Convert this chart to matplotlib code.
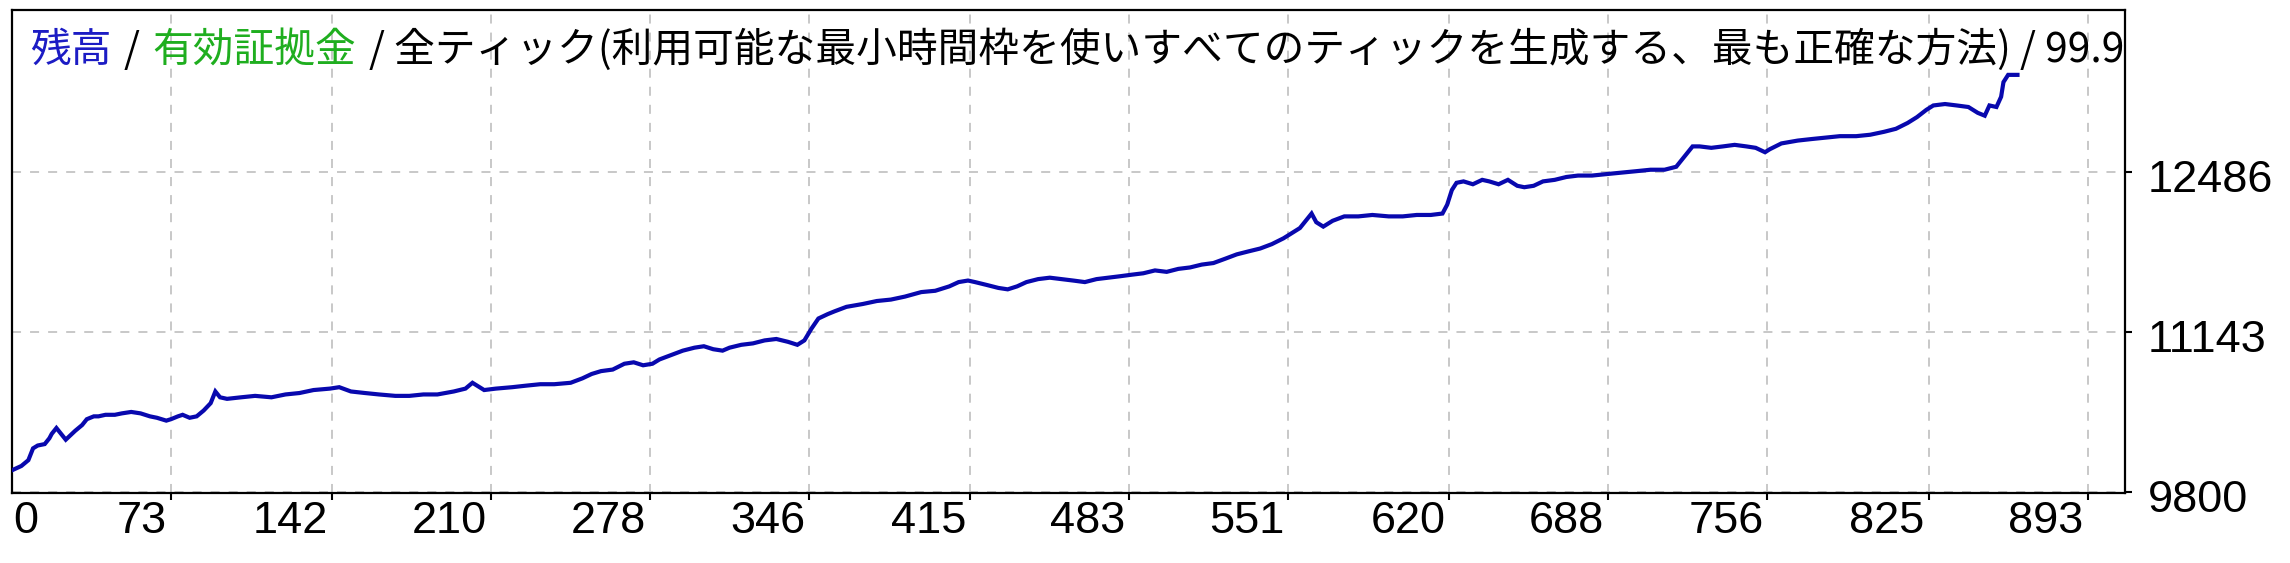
import matplotlib
matplotlib.use("Agg")
import matplotlib.pyplot as plt
from matplotlib.transforms import ScaledTranslation

# ---- data ----
trades = [5, 9, 12, 14, 16, 19, 21, 22, 24, 26, 28, 30, 32, 35, 37, 40, 42, 45, 49, 52,
          56, 60, 64, 67, 71, 73, 76, 78, 81, 84, 87, 90, 92, 94, 97, 103, 109, 116, 122, 128,
          134, 141, 145, 150, 156, 162, 169, 175, 181, 187, 194, 199, 202, 204, 207, 212, 219, 225, 231, 237,
          244, 249, 253, 257, 262, 267, 271, 275, 279, 282, 287, 292, 297, 301, 305, 309, 312, 317, 322, 327,
          332, 337, 341, 344, 347, 350, 354, 357, 362, 369, 375, 381, 387, 394, 400, 406, 410, 414, 417, 422,
          427, 431, 435, 439, 444, 449, 454, 459, 464, 469, 474, 479, 484, 489, 494, 499, 504, 509, 514, 519,
          524, 529, 534, 539, 544, 549, 552, 556, 559, 561, 563, 566, 570, 575, 581, 587, 594, 600, 606, 612,
          617, 619, 621, 623, 626, 630, 634, 637, 641, 645, 649, 652, 656, 660, 665, 670, 675, 681, 687, 694,
          700, 706, 712, 717, 721, 724, 727, 732, 737, 742, 747, 751, 755, 757, 762, 769, 775, 781, 787, 794,
          800, 806, 811, 816, 820, 824, 827, 832, 837, 842, 846, 849, 851, 854, 856, 857, 859, 863]
balance = [9983, 10019, 10068, 10167, 10191, 10203, 10252, 10289, 10338, 10289, 10240, 10277, 10314, 10363, 10412, 10436, 10436, 10449, 10449, 10461,
           10473, 10461, 10436, 10424, 10400, 10412, 10436, 10449, 10424, 10436, 10485, 10547, 10645, 10596, 10583, 10596, 10608, 10596, 10620, 10632,
           10657, 10669, 10681, 10645, 10632, 10620, 10608, 10608, 10620, 10620, 10645, 10669, 10718, 10694, 10657, 10669, 10681, 10694, 10706, 10706,
           10718, 10755, 10792, 10816, 10829, 10878, 10890, 10865, 10878, 10914, 10951, 10988, 11013, 11025, 11000, 10988, 11013, 11037, 11049, 11074,
           11086, 11062, 11037, 11074, 11172, 11258, 11295, 11319, 11356, 11380, 11405, 11417, 11442, 11480, 11491, 11528, 11564, 11577, 11564, 11540,
           11515, 11503, 11528, 11564, 11589, 11601, 11589, 11577, 11564, 11589, 11601, 11613, 11626, 11638, 11662, 11650, 11675, 11687, 11711, 11724,
           11760, 11797, 11822, 11846, 11883, 11932, 11969, 12018, 12091, 12140, 12067, 12030, 12079, 12116, 12116, 12128, 12116, 12116, 12128, 12128,
           12140, 12214, 12337, 12398, 12410, 12386, 12423, 12410, 12386, 12423, 12373, 12361, 12373, 12410, 12423, 12447, 12459, 12459, 12471, 12484,
           12496, 12508, 12508, 12533, 12631, 12704, 12704, 12692, 12704, 12717, 12704, 12692, 12655, 12680, 12729, 12753, 12766, 12778, 12790, 12790,
           12802, 12827, 12852, 12901, 12950, 13011, 13048, 13060, 13048, 13035, 12986, 12962, 13048, 13035, 13121, 13244, 13305, 13305]

x_tick_values = [73, 142, 210, 278, 346, 415, 483, 551, 620, 688, 756, 825, 893]
x_tick_labels = ["73", "142", "210", "278", "346", "415", "483", "551", "620", "688", "756", "825", "893"]
x_first_label = "0"
y_tick_values = [9800, 11143, 12486]
y_tick_labels = ["9800", "11143", "12486"]

title_parts = ["残高", "/", "有効証拠金",
               "/ 全ティック(利用可能な最小時間枠を使いすべてのティックを生成する、最も正確な方法) / 99.90%"]
title_colors = ["#1c1cc4", "#000000", "#1fae1f", "#000000"]

# ---- style ----
plt.rcParams["lines.scale_dashes"] = False
W, H, DPI = 2290, 563, 100
fig = plt.figure(figsize=(W / DPI, H / DPI), dpi=DPI)
fig.patch.set_facecolor("white")

ax_left, ax_right, ax_top, ax_bottom = 12, 2125, 10, 493
ax = fig.add_axes([ax_left / W, (H - ax_bottom) / H,
                   (ax_right - ax_left) / W, (ax_bottom - ax_top) / H])
ax.set_facecolor("white")
ax.set_axisbelow(True)

ax.plot(trades, balance, color="#0808ae", linewidth=3.0, solid_joinstyle="miter", zorder=3)

ax.set_xlim(5, 909)
ax.set_ylim(9792, 13850)

tick_font = ["Liberation Sans", "DejaVu Sans"]
ax.set_xticks(x_tick_values)
ax.set_xticklabels(x_tick_labels, fontfamily=tick_font)
ax.set_yticks(y_tick_values)
ax.set_yticklabels(y_tick_labels, fontfamily=tick_font)
ax.yaxis.tick_right()

ax.tick_params(axis="both", direction="out", length=5, width=1.5, labelsize=32.5,
               colors="black")
ax.tick_params(axis="x", pad=1)
ax.tick_params(axis="y", pad=11.5)

for lab in ax.get_xticklabels():
    lab.set_horizontalalignment("right")
    lab.set_transform(lab.get_transform() + ScaledTranslation(-4 / DPI, 0, fig.dpi_scale_trans))
for lab in ax.get_yticklabels():
    lab.set_transform(lab.get_transform() + ScaledTranslation(0, -4 / DPI, fig.dpi_scale_trans))

ax.annotate(x_first_label, xy=(0, 0), xycoords="axes fraction",
            xytext=(1 * 0.72, -6), textcoords="offset points",
            ha="left", va="top", fontsize=32.5, fontfamily=tick_font, color="black",
            annotation_clip=False)

ax.grid(True, color="#c8c8c8", linestyle=(0, (6.5, 6.5)), linewidth=1.4)

for side in ["left", "right", "top", "bottom"]:
    ax.spines[side].set_color("black")
    ax.spines[side].set_linewidth(1.6)

# ---- multi-coloured header text inside the plot, clipped at the right edge ----
title_font = ["Noto Sans CJK JP", "DejaVu Sans"]
title_size = 29.3
gap_pt = 9.0
prev = None
for part, col in zip(title_parts, title_colors):
    if prev is None:
        prev = ax.annotate(part, xy=(0, 1), xycoords="axes fraction",
                           xytext=(18 * 0.72, -52 * 0.72), textcoords="offset points",
                           ha="left", va="baseline", color=col, fontsize=title_size,
                           fontfamily=title_font, clip_on=True, annotation_clip=False,
                           zorder=4)
    else:
        prev = ax.annotate(part, xy=(1, 0), xycoords=prev,
                           xytext=(gap_pt, 0), textcoords="offset points",
                           ha="left", va="bottom", color=col, fontsize=title_size,
                           fontfamily=title_font, clip_on=True, annotation_clip=False,
                           zorder=4)

fig.savefig("out.png", dpi=DPI, facecolor="white")
